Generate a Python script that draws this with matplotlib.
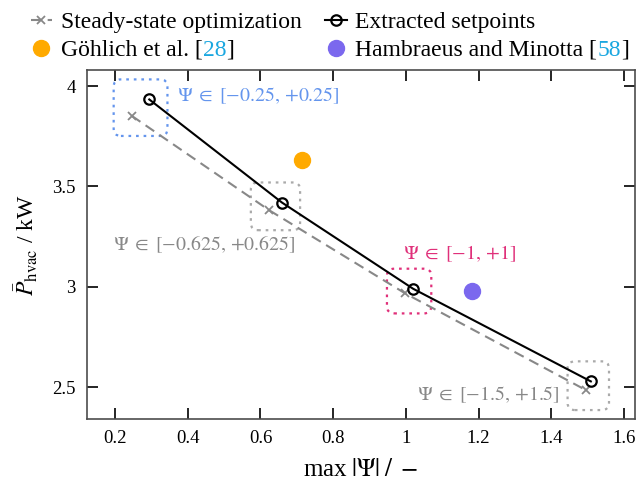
import matplotlib
matplotlib.use("Agg")
from matplotlib import pyplot as plt
from matplotlib.patches import FancyBboxPatch

plt.rcParams['font.family'] = ['Liberation Serif', 'DejaVu Serif']
plt.rcParams['mathtext.fontset'] = 'stix'

# data
steady_x = [0.246, 0.6235, 0.998, 1.495]
steady_y = [3.852, 3.382, 2.967, 2.485]
extract_x = [0.294, 0.659, 1.020, 1.509]
extract_y = [3.934, 3.420, 2.990, 2.528]
goehlich = (0.714, 3.631)
hambraeus = (1.183, 2.980)
box_labels = [r'$\Psi\;\in\;[-0.25,\,{+}0.25]$', r'$\Psi\;\in\;[-0.625,\,{+}0.625]$',
              r'$\Psi\;\in\;[-1,\,{+}1]$', r'$\Psi\;\in\;[-1.5,\,{+}1.5]$']
box_colors = ['#6495ed', '#aaaaaa', '#e0307a', '#aaaaaa']
text_colors = ['#6495ed', '#888888', '#e0307a', '#888888']
text_pos = [(0.371, 3.95), (0.1945, 3.206), (0.992, 3.165), (1.03, 2.46)]

ref_color = '#1aa7e0'
fig = plt.figure(figsize=(6.38, 4.84), dpi=100)
ax = fig.add_axes([0.136, 0.1337, 0.995 - 0.136, 0.855 - 0.1337])

l1, = ax.plot(steady_x, steady_y, color='#888888', ls=(0, (5, 3)), lw=1.5,
              marker='x', ms=6, mew=1.3, label='Steady-state optimization')
l2, = ax.plot(extract_x, extract_y, color='black', lw=1.5, marker='o', ms=7.5,
              mfc='none', mew=1.6, label='Extracted setpoints')
l3, = ax.plot(*goehlich, 'o', color='#ffaa00', ms=11.5, label='Göhlich et al. [')
l4, = ax.plot(*hambraeus, 'o', color='#7b68ee', ms=11.5,
              label='Hambraeus and Minotta [')

# dotted boxes around each pair of points
for i in range(4):
    x0 = min(steady_x[i], extract_x[i]) - 0.05
    x1 = max(steady_x[i], extract_x[i]) + 0.05
    y0 = min(steady_y[i], extract_y[i]) - 0.1
    y1 = max(steady_y[i], extract_y[i]) + 0.1
    ax.add_patch(FancyBboxPatch((x0, y0), x1 - x0, y1 - y0,
                                boxstyle='round,pad=0,rounding_size=0.02',
                                mutation_aspect=1.8, fill=False,
                                ec=box_colors[i], lw=1.6, ls=(0, (1.2, 2.2)),
                                zorder=1))
    ax.text(text_pos[i][0], text_pos[i][1], box_labels[i], color=text_colors[i],
            fontsize=14.3, ha='left', va='center')

ax.set_xlim(0.122, 1.63)
ax.set_ylim(2.339, 4.08)
ax.set_xticks([0.2, 0.4, 0.6, 0.8, 1.0, 1.2, 1.4, 1.6])
ax.set_xticklabels(['0.2', '0.4', '0.6', '0.8', '1', '1.2', '1.4', '1.6'])
ax.set_yticks([2.5, 3, 3.5, 4])
ax.set_yticklabels(['2.5', '3', '3.5', '4'])
ax.tick_params(direction='in', length=8, width=1.2, top=True, right=True,
               labelsize=13.5, pad=8)
for s in ax.spines.values():
    s.set_color('0.3')
    s.set_linewidth(1.2)

ax.set_xlabel(r'max$\;|\Psi|\;/\;-$', fontsize=18, labelpad=8)
ax.set_ylabel(r'$\bar{P}_{\mathrm{hvac}}$ / kW', fontsize=17, labelpad=9)

# row-wise order for a 2-column legend
leg = fig.legend([l1, l3, l2, l4], [l1.get_label(), l3.get_label(),
                                    l2.get_label(), l4.get_label()],
                 loc='lower left', bbox_to_anchor=(0.048, 0.874), ncol=2,
                 frameon=False, fontsize=17, handlelength=0.92,
                 handletextpad=0.36, columnspacing=1.0, labelspacing=0.28,
                 borderaxespad=0, borderpad=0)
fig.canvas.draw()
refs = {'Göhlich et al. [': '28', 'Hambraeus and Minotta [': '58'}
for t in leg.get_texts():
    if t.get_text() in refs:
        a = ax.annotate(refs[t.get_text()], xy=(1, 0), xycoords=t,
                        ha='left', va='bottom', color=ref_color, fontsize=17)
        ax.annotate(']', xy=(1, 0), xycoords=a, ha='left', va='bottom',
                    fontsize=17)

fig.savefig('out.png', dpi=100)
